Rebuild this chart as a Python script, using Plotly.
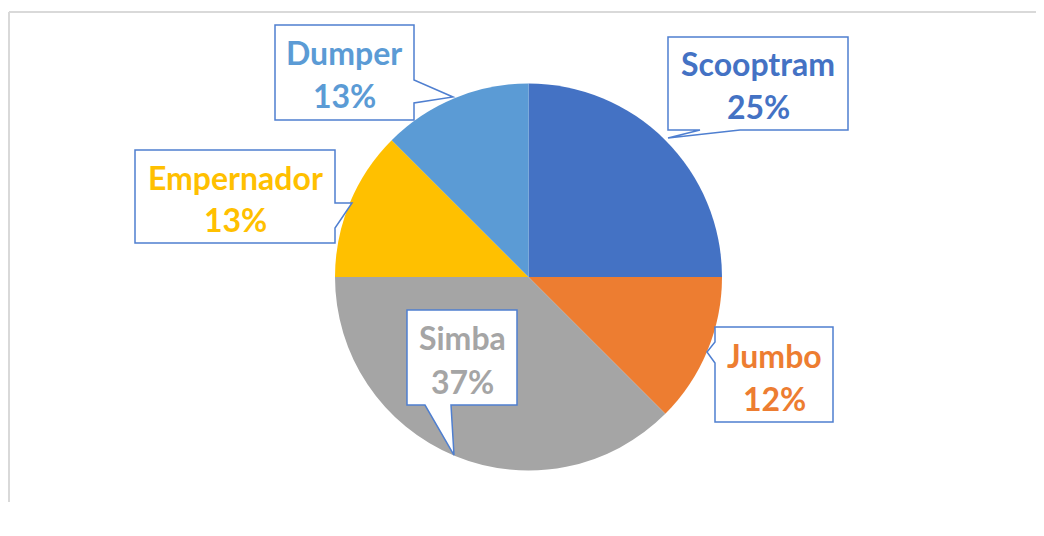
import plotly.graph_objects as go

W, H = 1044, 536
OFF = 8  # page body margin: the figure starts 8px in from the window edge

equipment = ["Scooptram", "Jumbo", "Simba", "Empernador", "Dumper"]
shares = [25, 12.5, 37.5, 12.5, 12.5]
pct_labels = ["25%", "12%", "37%", "13%", "13%"]
colors = ["#4472C4", "#ED7D31", "#A5A5A5", "#FFC000", "#5B9BD5"]

# callout outlines (box + pointer) in window pixels, and text centre
callouts = {
    "Scooptram": ([(668, 37), (848, 37), (848, 130), (740, 130), (668, 138), (700, 130), (668, 130)], (758, 84)),
    "Jumbo": ([(715, 327), (833, 327), (833, 422), (715, 422), (715, 363), (707, 352), (715, 342)], (774, 375)),
    "Simba": ([(407, 310), (517, 310), (517, 405), (451, 405), (454, 455), (425, 405), (407, 405)], (462, 358)),
    "Empernador": ([(135, 150), (335, 150), (335, 203), (352, 203), (335, 228), (335, 243), (135, 243)], (235, 197)),
    "Dumper": ([(275, 25), (414, 25), (414, 80), (453, 97), (414, 103), (414, 120), (275, 120)], (344, 72)),
}

BORDER = "#4F7FD0"
FONT = "Lato"


def px(x):
    return (x - OFF) / W


def py(y):
    return 1 - (y - OFF) / H


fig = go.Figure(
    go.Pie(
        labels=equipment,
        values=shares,
        sort=False,
        direction="clockwise",
        rotation=0,
        marker={"colors": colors, "line": {"width": 0}},
        textinfo="none",
        hoverinfo="label+percent",
        domain={"x": [px(335), px(722)], "y": [py(471), py(83)]},
        showlegend=False,
    )
)

for name, pct, color in zip(equipment, pct_labels, colors):
    outline, (cx, cy) = callouts[name]
    path = "M " + " L ".join(f"{px(x):.5f},{py(y):.5f}" for x, y in outline) + " Z"
    fig.add_shape(type="path", xref="paper", yref="paper", path=path, layer="above",
                  fillcolor="white", line={"color": BORDER, "width": 1.5})
    # two lines placed separately to get the wider Excel line spacing
    for line_text, dy in ((name, -20), (pct, 23)):
        fig.add_annotation(
            x=px(cx), y=py(cy + dy), xref="paper", yref="paper",
            showarrow=False, xanchor="center", yanchor="middle",
            text=f"<b>{line_text}</b>",
            font={"family": FONT, "size": 32, "color": color},
        )

# faint chart-area frame (top and left edges)
fig.add_shape(type="line", xref="paper", yref="paper", x0=px(9), x1=1, y0=py(12), y1=py(12),
              line={"color": "#D9D9D9", "width": 2})
fig.add_shape(type="line", xref="paper", yref="paper", x0=px(9), x1=px(9), y0=py(12), y1=py(502),
              line={"color": "#D9D9D9", "width": 2})

fig.update_layout(
    width=W, height=H,
    margin=dict(t=0, b=0, l=0, r=0),
    paper_bgcolor="white",
    plot_bgcolor="white",
)

fig.write_html("out.html")
